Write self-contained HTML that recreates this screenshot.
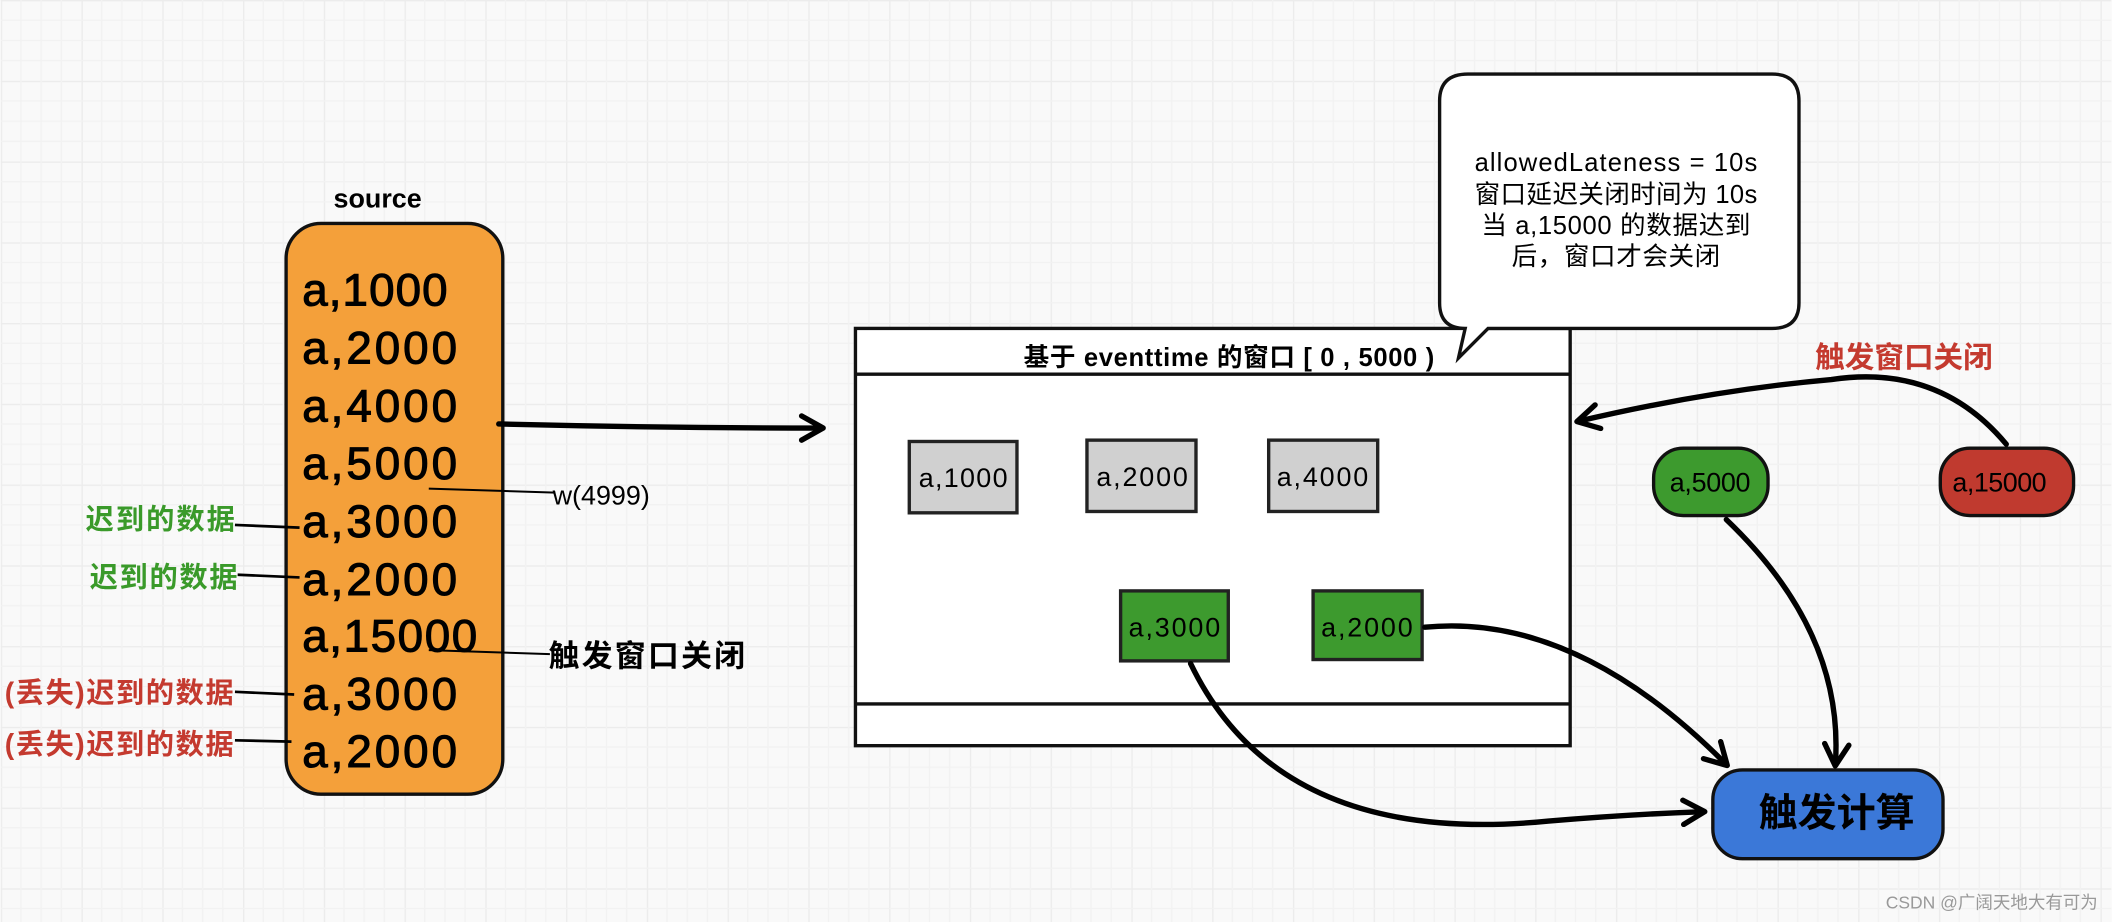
<!DOCTYPE html>
<html><head><meta charset="utf-8"><style>
html,body{margin:0;padding:0;background:#fafafa;}
svg{display:block;}
text{font-family:"Liberation Sans","Noto Sans CJK SC",sans-serif;}
</style></head><body>
<svg width="2112" height="922" viewBox="0 0 1568 685" xmlns="http://www.w3.org/2000/svg">
<defs>
<pattern id="g" width="60" height="60" patternUnits="userSpaceOnUse">
<rect width="60" height="60" fill="#f9f9f9"/>
<path d="M0 0H60M0 0V60" stroke="#ececec" stroke-width="2"/>
<path d="M0 15H60M0 30H60M0 45H60M15 0V60M30 0V60M45 0V60" stroke="#f2f2f2" stroke-width="1"/>
</pattern>
<marker id="ah2" markerWidth="22" markerHeight="22" refX="18" refY="11" orient="auto" markerUnits="userSpaceOnUse" viewBox="0 0 22 22">
<path d="M3 2L19 11L3 20" fill="none" stroke="#000" stroke-width="4" stroke-linejoin="round" stroke-linecap="round"/>
</marker>
</defs>
<rect width="1568" height="685" fill="url(#g)"/>

<!-- source -->
<text x="280" y="154" font-size="20" font-weight="bold" text-anchor="middle">source</text>
<rect x="212" y="166" width="161" height="424" rx="26" fill="#f4a03a" stroke="#111" stroke-width="2.5"/>
<g font-size="34" fill="#000" stroke="#000" stroke-width="0.8">
<text x="224" y="227" textLength="108">a,1000</text>
<text x="224" y="270" textLength="115">a,2000</text>
<text x="224" y="313" textLength="115">a,4000</text>
<text x="224" y="356" textLength="115">a,5000</text>
<text x="224" y="399" textLength="115">a,3000</text>
<text x="224" y="442" textLength="115">a,2000</text>
<text x="224" y="484" textLength="130">a,15000</text>
<text x="224" y="527" textLength="115">a,3000</text>
<text x="224" y="570" textLength="115">a,2000</text>
</g>
<path d="M370 315 Q490 318 610 318" fill="none" stroke="#000" stroke-width="4" stroke-linecap="round" marker-end="url(#ah2)"/>
<path d="M318 363 L412 366" stroke="#000" stroke-width="1.5"/>
<text x="410" y="375" font-size="20">w(4999)</text>
<path d="M318 483 L408 486" stroke="#000" stroke-width="1.5"/>
<text x="407" y="495" font-size="23" font-weight="bold" textLength="146">触发窗口关闭</text>

<g font-size="21" font-weight="bold">
<text x="63" y="393" fill="#3a9a2a" textLength="111">迟到的数据</text>
<text x="66" y="436" fill="#3a9a2a" textLength="110">迟到的数据</text>
<text x="3" y="522" fill="#c43a2f" textLength="170">(丢失)迟到的数据</text>
<text x="3" y="560" fill="#c43a2f" textLength="170">(丢失)迟到的数据</text>
</g>
<path d="M174 390 L222 392M176 427 L222 429M174 514 L218 516M174 550 L216 551" stroke="#000" stroke-width="2"/>

<!-- window -->
<rect x="635" y="244" width="531" height="310" fill="#fff" stroke="#111" stroke-width="2.5"/>
<path d="M635 278H1166M635 523H1166" stroke="#111" stroke-width="2.5"/>
<text x="760" y="272" font-size="19" font-weight="bold" textLength="305">基于 eventtime 的窗口 [ 0 , 5000 )</text>
<g stroke="#222" stroke-width="2.5" fill="#d0d0d0">
<rect x="675" y="328" width="80" height="53"/>
<rect x="807" y="327" width="81" height="53"/>
<rect x="942" y="327" width="81" height="53"/>
</g>
<g stroke="#222" stroke-width="2.5" fill="#3d9a2e">
<rect x="832" y="439" width="80" height="52"/>
<rect x="975" y="439" width="81" height="51"/>
</g>
<g font-size="20" text-anchor="middle">
<text x="715" y="362" textLength="66">a,1000</text>
<text x="848" y="361" textLength="68">a,2000</text>
<text x="982" y="361" textLength="68">a,4000</text>
<text x="872" y="473" textLength="68">a,3000</text>
<text x="1015" y="473" textLength="68">a,2000</text>
</g>

<!-- callout -->
<path d="M1090 55 H1316 Q1336 55 1336 75 V225 Q1336 244 1316 244 H1105 L1083 266 L1088 244 Q1069 244 1069 225 V75 Q1069 55 1090 55 Z" fill="#fff" stroke="#111" stroke-width="2.5"/>
<g font-size="19" text-anchor="middle">
<text x="1200" y="127" textLength="210">allowedLateness = 10s</text>
<text x="1200" y="151" textLength="210">窗口延迟关闭时间为 10s</text>
<text x="1200" y="174" textLength="200">当 a,15000 的数据达到</text>
<text x="1200" y="197" textLength="155">后，窗口才会关闭</text>
</g>

<text x="1348" y="273" font-size="22" font-weight="bold" fill="#c43a2f" textLength="132">触发窗口关闭</text>
<path d="M1490 330 Q1440 270 1360 282 Q1270 290 1172 313" fill="none" stroke="#000" stroke-width="4" stroke-linecap="round" marker-end="url(#ah2)"/>

<rect x="1228" y="333" width="85" height="50" rx="22" fill="#3d9a2e" stroke="#111" stroke-width="2.5"/>
<text x="1270" y="365" font-size="20" text-anchor="middle" textLength="60">a,5000</text>
<rect x="1441" y="333" width="99" height="50" rx="22" fill="#c03a2f" stroke="#111" stroke-width="2.5"/>
<text x="1485" y="365" font-size="20" text-anchor="middle" textLength="70">a,15000</text>

<rect x="1272" y="572" width="171" height="66" rx="22" fill="#3b78d8" stroke="#111" stroke-width="2.5"/>
<text x="1364" y="614" font-size="29" font-weight="bold" text-anchor="middle">触发计算</text>

<g fill="none" stroke="#000" stroke-width="4" stroke-linecap="round">
<path d="M1282 386 Q1370 470 1363 568" marker-end="url(#ah2)"/>
<path d="M1058 466 Q1170 455 1282 568" marker-end="url(#ah2)"/>
<path d="M884 493 Q950 630 1150 610 Q1210 605 1265 603" marker-end="url(#ah2)"/>
</g>

<text x="1558" y="675" font-size="13" fill="#999" text-anchor="end">CSDN @广阔天地大有可为</text>
</svg>
</body></html>
